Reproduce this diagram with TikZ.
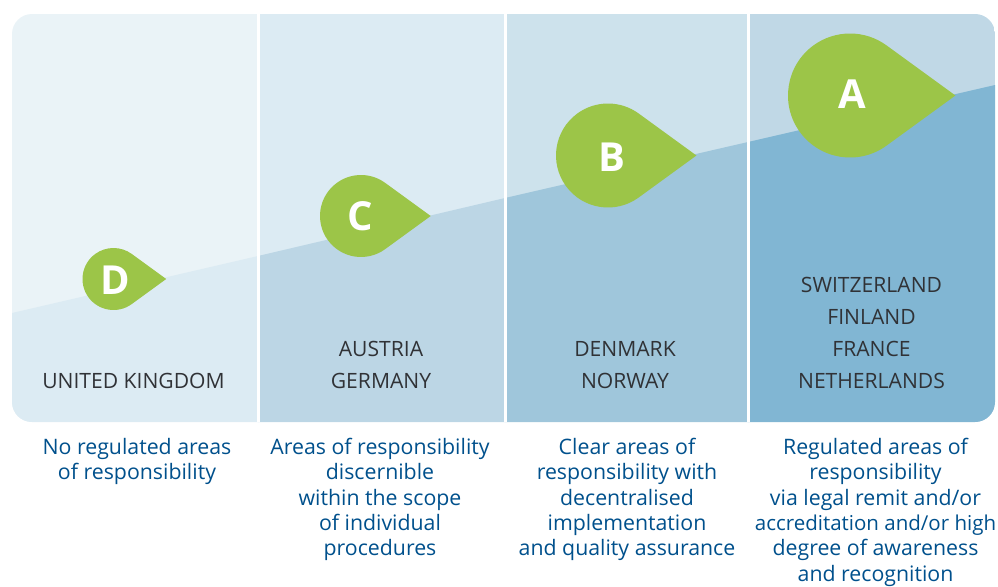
\documentclass[tikz,border=0pt]{standalone}
\usepackage{fontspec}
\setmainfont{Open Sans}
\definecolor{topone}{HTML}{EAF3F7}
\definecolor{toptwo}{HTML}{DCEBF3}
\definecolor{topthree}{HTML}{CDE2EC}
\definecolor{topfour}{HTML}{C0D8E6}
\definecolor{lowone}{HTML}{DCEBF3}
\definecolor{lowtwo}{HTML}{BCD6E5}
\definecolor{lowthree}{HTML}{9FC6DB}
\definecolor{lowfour}{HTML}{81B6D3}
\definecolor{dropgreen}{HTML}{9CC548}
\definecolor{capblue}{HTML}{00508C}
\definecolor{landgrey}{HTML}{303236}
\tikzset{
  country/.style={align=center,text=landgrey,inner sep=0pt,font=\fontsize{21.1}{32}\selectfont},
  caption/.style={align=center,text=capblue,inner sep=0pt,anchor=north,font=\fontsize{21.3}{25.3}\selectfont},
  grade/.style={text=white,inner sep=0pt,font=\fontsize{40}{40}\selectfont\bfseries},
  divider/.style={white,line width=3pt}
}
\newcommand{\dropshape}[3]{\fill[dropgreen] (#1,#2) ++(54:#3) arc[start angle=54,end angle=306,radius=#3] -- (#1+1.7*#3,#2) -- cycle;}
\begin{document}
\begin{tikzpicture}[x=1pt,y=-1pt]
    \useasboundingbox (0,0) rectangle (998,586);
    \begin{scope}
        \clip[rounded corners=20pt] (12,14) rectangle (995,422);
        \fill[topone] (12,14) rectangle (258,422);
        \fill[toptwo] (258,14) rectangle (505,422);
        \fill[topthree] (505,14) rectangle (748,422);
        \fill[topfour] (748,14) rectangle (995,422);
        \fill[lowone] (12,313) -- (258,256) -- (258,422) -- (12,422) -- cycle;
        \fill[lowtwo] (258,256) -- (505,198) -- (505,422) -- (258,422) -- cycle;
        \fill[lowthree] (505,198) -- (748,142) -- (748,422) -- (505,422) -- cycle;
        \fill[lowfour] (748,142) -- (995,85) -- (995,422) -- (748,422) -- cycle;
    \end{scope}
    \coordinate (d1a) at (258.4,14);
    \coordinate (d1b) at (258.4,422);
    \coordinate (d2a) at (505.4,14);
    \coordinate (d2b) at (505.4,422);
    \coordinate (d3a) at (748.4,14);
    \coordinate (d3b) at (748.4,422);
    \draw[divider] (d1a) -- (d1b);
    \draw[divider] (d2a) -- (d2b);
    \draw[divider] (d3a) -- (d3b);

    \dropshape{113.5}{279}{31}
    \dropshape{361}{216}{41}
    \dropshape{608}{155.5}{52}
    \dropshape{850}{95.5}{62}
    \node[grade] (gradeD) at (115.5,280) {D};
    \node[grade] (gradeC) at (360,216.5) {C};
    \node[grade] (gradeB) at (612,157) {B};
    \node[grade] (gradeA) at (852,94) {A};

    \node[country] (uk) at (133.5,381) {UNITED KINGDOM};
    \node[country] (atde) at (381,365) {AUSTRIA\\GERMANY};
    \node[country] (dkno) at (625,365) {DENMARK\\NORWAY};
    \node[country] (chfr) at (871.5,333) {SWITZERLAND\\FINLAND\\FRANCE\\NETHERLANDS};

    \node[caption] (capD) at (137,438) {No regulated areas\\of responsibility};
    \node[caption] (capC) at (380,438) {Areas of responsibility\\discernible\\within the scope\\of individual\\procedures};
    \node[caption] (capB) at (627,438) {Clear areas of\\responsibility with\\decentralised\\implementation\\and quality assurance};
    \node[caption] (capA) at (875.5,438) {Regulated areas of\\responsibility\\via legal remit and/or\\{\fontsize{20.5}{25.3}\selectfont accreditation and/or high}\\degree of awareness\\and recognition};
\end{tikzpicture}
\end{document}
